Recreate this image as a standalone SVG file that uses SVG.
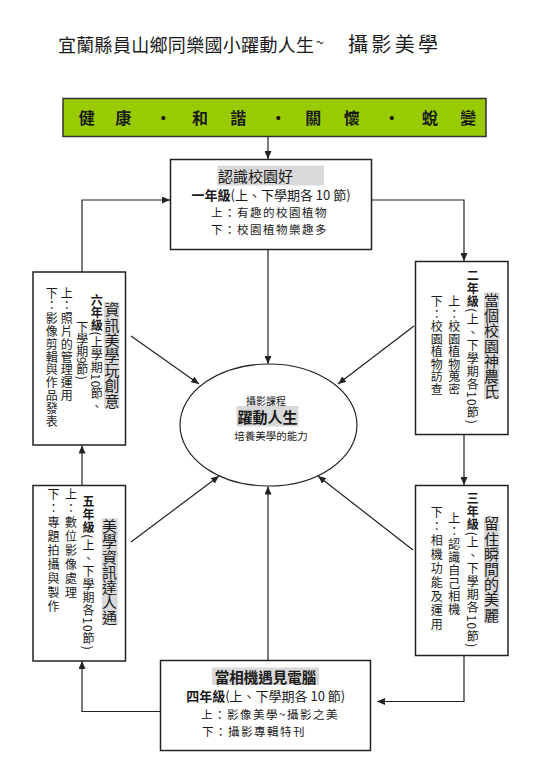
<svg xmlns="http://www.w3.org/2000/svg" width="543" height="768" viewBox="0 0 543 768">
<style>
text{font-family:"Noto Sans CJK TC","Noto Sans CJK SC",sans-serif;fill:#1a1a1a;}
.h{dominant-baseline:central;}
.v{writing-mode:vertical-rl;font-size:12px;}
.vt{writing-mode:vertical-rl;font-size:15px;letter-spacing:0.2px;}
.box{fill:#fff;stroke:#222;stroke-width:1.5;}
.hl{fill:#d9d9d9;}
.c{fill:none;stroke:#222;stroke-width:1.2;}
.b{font-weight:bold;}
.s{font-size:11.5px;letter-spacing:1.5px;}
</style>
<defs>
<marker id="arr" markerUnits="userSpaceOnUse" markerWidth="9" markerHeight="7" refX="8" refY="3.5" orient="auto">
<path d="M0,0 L8,3.5 L0,7 z" fill="#222"/>
</marker>
</defs>
<rect width="543" height="768" fill="#fff"/>

<g id="title">
<text class="h" x="58" y="43.5" font-size="18" textLength="256" lengthAdjust="spacing">宜蘭縣員山鄉同樂國小躍動人生</text>
<text class="h" x="316" y="41.5" font-size="14">~</text>
<text class="h" x="348" y="43.5" font-size="20" textLength="90" lengthAdjust="spacing">攝影美學</text>
</g>

<g id="banner">
<rect x="63" y="98.5" width="423" height="38" fill="#99cc00" stroke="#333" stroke-width="1.5"/>
<text class="h b" y="117" font-size="16" text-anchor="middle" x="86.7 123.3 163.3 200 238.3 278.3 313.3 351.7 391.7 430 468.3">健康·和諧·關懷·蛻變</text>
</g>

<g id="connectors">
<path class="c" d="M268,137 V159" marker-end="url(#arr)"/>
<path class="c" d="M82,272 V200 H170" marker-end="url(#arr)"/>
<path class="c" d="M371,200 H464 V261" marker-end="url(#arr)"/>
<path class="c" d="M268,250 V364" marker-end="url(#arr)"/>
<path class="c" d="M131,336 L199,384" marker-end="url(#arr)"/>
<path class="c" d="M414,326 L338,384" marker-end="url(#arr)"/>
<path class="c" d="M464,435 V485" marker-end="url(#arr)"/>
<path class="c" d="M464,656 V701.5 H377" marker-end="url(#arr)"/>
<path class="c" d="M160,711.5 H82 V661" marker-end="url(#arr)"/>
<path class="c" d="M82,485 V445.5" marker-end="url(#arr)"/>
<path class="c" d="M131,542 L219,476" marker-end="url(#arr)"/>
<path class="c" d="M413,550 L318,476" marker-end="url(#arr)"/>
<path class="c" d="M268,660 V486.5" marker-end="url(#arr)"/>
</g>

<g id="grade1">
<rect class="box" x="170.5" y="159.5" width="201" height="90"/>
<rect class="hl" x="217.5" y="165.5" width="106.5" height="20"/>
<text class="h" x="218" y="175.5" font-size="15">認識校園好</text>
<text class="h" x="271" y="194.3" font-size="13" text-anchor="middle"><tspan class="b">一年級</tspan>(上、下學期各 10 節)</text>
<text class="h s" x="211" y="212">上：有趣的校園植物</text>
<text class="h s" x="211" y="229">下：校園植物樂趣多</text>
</g>

<g id="center">
<ellipse cx="268.5" cy="425" rx="88.5" ry="61" fill="#fff" stroke="#222" stroke-width="1.2"/>
<text class="h" x="266" y="400" font-size="10" text-anchor="middle">攝影課程</text>
<rect class="hl" x="236.5" y="406" width="62" height="20.5"/>
<text class="h b" x="267.5" y="416.5" font-size="15" text-anchor="middle">躍動人生</text>
<text class="h" x="271" y="435.5" font-size="10.5" text-anchor="middle">培養美學的能力</text>
</g>

<g id="grade2">
<rect class="box" x="415.5" y="261.5" width="92.5" height="173"/>
<rect class="hl" x="484" y="292.3" width="15.5" height="106.7"/>
<text class="vt" x="491.5" y="346" text-anchor="middle">當個校園神農氏</text>
<text class="v" x="472.7" y="347" text-anchor="middle" letter-spacing="1"><tspan class="b">二年級</tspan>(上、下學期各10節)</text>
<text class="v" x="454.3" y="345.5" text-anchor="middle" letter-spacing="0.5">上：校園植物蒐密</text>
<text class="v" x="436.7" y="345.5" text-anchor="middle" letter-spacing="0.5">下：校園植物訪查</text>
</g>

<g id="grade3">
<rect class="box" x="415.5" y="485.5" width="92.5" height="170"/>
<rect class="hl" x="484" y="516.7" width="15.5" height="105"/>
<text class="vt" x="491.5" y="569.5" text-anchor="middle">留住瞬間的美麗</text>
<text class="v" x="472.7" y="570.5" text-anchor="middle" letter-spacing="1"><tspan class="b">三年級</tspan>(上、下學期各10節)</text>
<text class="v" x="454.3" y="564.5" text-anchor="middle" letter-spacing="1.1">上：認識自己相機</text>
<text class="v" x="436.7" y="569" text-anchor="middle" letter-spacing="2">下：相機功能及運用</text>
</g>

<g id="grade4">
<rect class="box" x="160.5" y="660.5" width="210" height="90"/>
<rect class="hl" x="212" y="667.5" width="107" height="17.5"/>
<text class="h b" x="265.5" y="676.5" font-size="14.5" text-anchor="middle">當相機遇見電腦</text>
<text class="h" x="265.7" y="695.4" font-size="13" text-anchor="middle"><tspan class="b">四年級</tspan>(上、下學期各 10 節)</text>
<text class="h s" x="201" y="713.8">上：影像美學~攝影之美</text>
<text class="h s" x="202" y="730.7">下：攝影專輯特刊</text>
</g>

<g id="grade5">
<rect class="box" x="33" y="485.5" width="92.5" height="175.5"/>
<rect class="hl" x="101.7" y="518.3" width="16" height="106.7"/>
<text class="vt" x="109.5" y="572.2" text-anchor="middle">美學資訊達人通</text>
<text class="v" x="88.5" y="573" text-anchor="middle" letter-spacing="1"><tspan class="b">五年級</tspan>(上、下學期各10節)</text>
<text class="v" x="71" y="488" letter-spacing="2">上：數位影像處理</text>
<text class="v" x="53.5" y="488" letter-spacing="2">下：專題拍攝與製作</text>
</g>

<g id="grade6">
<rect class="box" x="33" y="272" width="92.5" height="173"/>
<rect class="hl" x="104" y="301.7" width="15.5" height="106.3"/>
<text class="vt" x="112" y="355.5" text-anchor="middle">資訊美學玩創意</text>
<text class="v" x="96.7" y="294" letter-spacing="0.5"><tspan class="b">六年級</tspan>(上學期10節、</text>
<text class="v" x="82.3" y="321">下學期9節)</text>
<text class="v" x="66.7" y="287" letter-spacing="0.8">上：照片的管理運用</text>
<text class="v" x="51.7" y="287" letter-spacing="0.8">下：影像剪輯與作品發表</text>
</g>
</svg>
